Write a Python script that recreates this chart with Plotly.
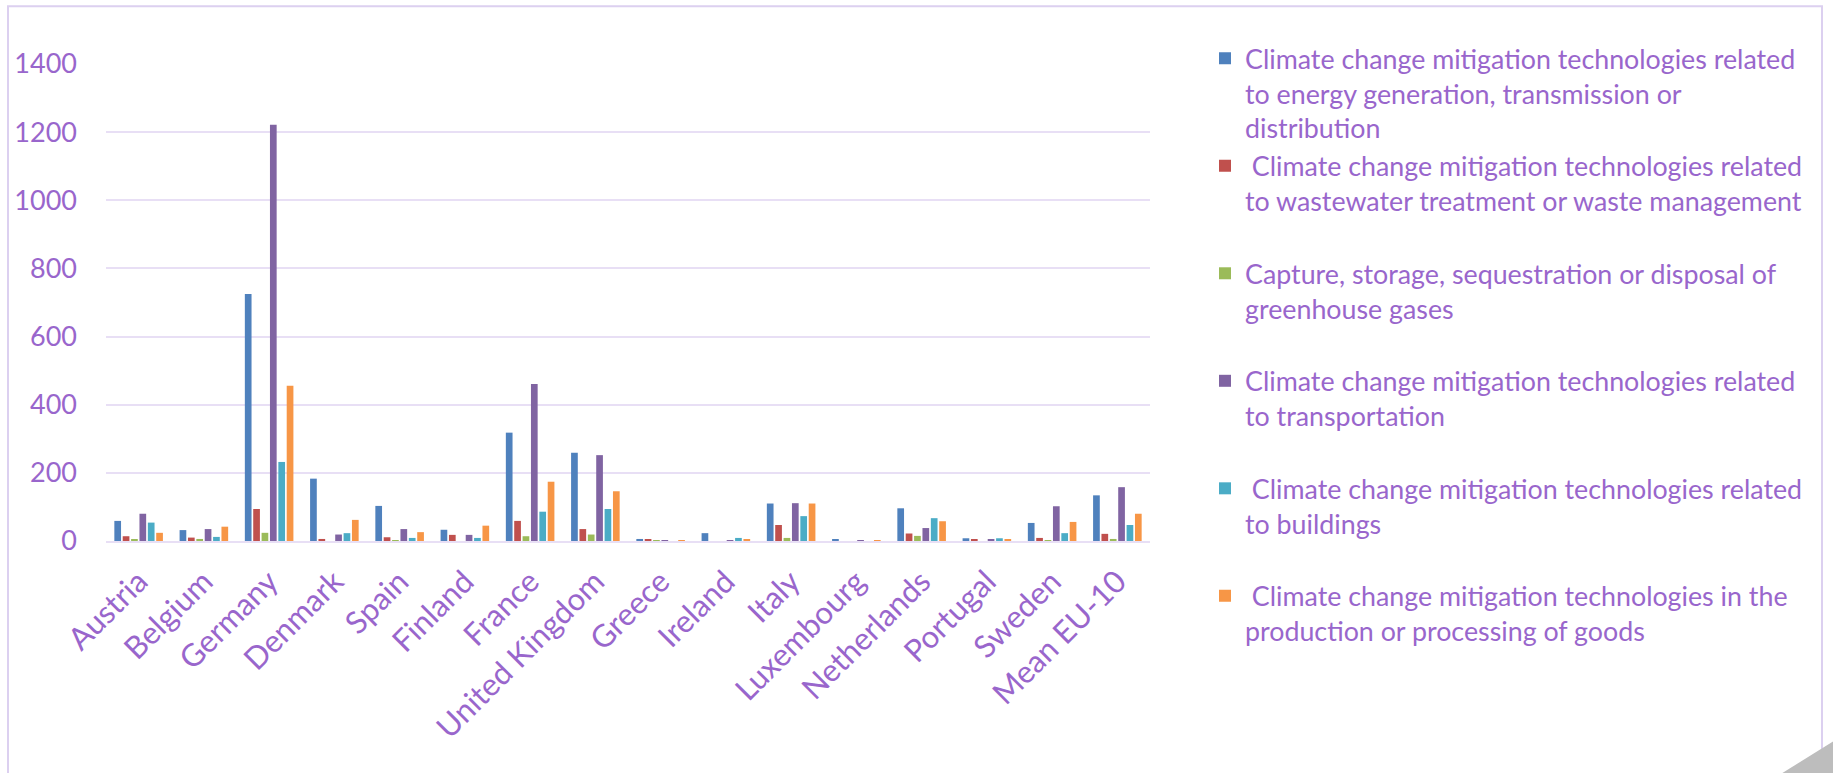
import plotly.graph_objects as go

countries = ["Austria", "Belgium", "Germany", "Denmark", "Spain", "Finland", "France",
             "United Kingdom", "Greece", "Ireland", "Italy", "Luxembourg", "Netherlands",
             "Portugal", "Sweden", "Mean EU-10"]

energy = [59, 32, 725, 183, 103, 33, 318, 259, 6, 23, 110, 3, 96, 8, 53, 134]
waste = [14, 10, 94, 6, 11, 18, 59, 35, 5, 0, 47, 0, 22, 3, 9, 21]
capture = [3, 6, 24, 0, 1, 0, 14, 19, 1, 0, 9, 0, 15, 0, 1, 6]
transport = [80, 35, 1222, 19, 35, 18, 461, 252, 1, 1, 111, 1, 38, 3, 102, 158]
buildings = [54, 12, 232, 23, 9, 9, 86, 94, 0, 9, 73, 0, 67, 8, 23, 47]
goods = [24, 42, 456, 62, 26, 45, 174, 146, 1, 5, 110, 1, 58, 5, 56, 80]

series_names = [
    "Climate change mitigation technologies related<br>to energy generation, transmission or<br>distribution",
    "\u00a0Climate change mitigation technologies related<br>to wastewater treatment or waste management<br>\u00a0",
    "Capture, storage, sequestration or disposal of<br>greenhouse gases<br>\u00a0",
    "Climate change mitigation technologies related<br>to transportation<br>\u00a0",
    "\u00a0Climate change mitigation technologies related<br>to buildings<br>\u00a0",
    "\u00a0Climate change mitigation technologies in the<br>production or processing of goods<br>\u00a0",
]
series_values = [energy, waste, capture, transport, buildings, goods]
colors = ["#4F81BD", "#C0504D", "#9BBB59", "#8064A2", "#4BACC6", "#F79646"]

y_ticks = [0, 200, 400, 600, 800, 1000, 1200, 1400]

TEXT = "#9966CC"
GRID = "#E8DFF5"
FONT = "Lato"

fig = go.Figure()
for name, vals, col in zip(series_names, series_values, colors):
    fig.add_trace(go.Bar(x=countries, y=vals, name=name, marker_color=col,
                         marker_line_width=0))

W, H = 1833, 773
L, R = 106, 1150
T, B = 63.7, 541

def px_x(p):
    return (p - L) / (R - L)

def px_y(p):
    return (B - p) / (B - T)

fig.update_layout(
    width=W, height=H,
    margin=dict(l=L, r=W - R, t=T, b=H - B, pad=0),
    paper_bgcolor="white", plot_bgcolor="white",
    barmode="group", bargap=0.23, bargroupgap=0.2,
    font=dict(family=FONT, color=TEXT),
    showlegend=True,
    legend=dict(x=px_x(1205), xanchor="left", y=px_y(34), yanchor="top",
                font=dict(family=FONT, size=26.8, color=TEXT),
                valign="top", bgcolor="rgba(0,0,0,0)", tracegroupgap=0,
                traceorder="normal", maxheight=760),
    xaxis=dict(tickangle=-45, tickfont=dict(family=FONT, size=31, color=TEXT),
               showgrid=False, showline=True, linecolor=GRID, linewidth=2,
               ticks="", ticklabelstandoff=8, fixedrange=True),
    yaxis=dict(range=[0, 1400], tickvals=y_ticks, ticktext=[str(v) for v in y_ticks],
               tickfont=dict(family=FONT, size=27, color=TEXT),
               showgrid=True, gridcolor=GRID, gridwidth=2, zeroline=False,
               showline=False, ticks="", ticklabelstandoff=28, fixedrange=True),
    shapes=[
        dict(type="path", xref="paper", yref="paper",
             path=f"M {px_x(8)} {px_y(790)} L {px_x(8)} {px_y(6)} L {px_x(1822)} {px_y(6)} L {px_x(1822)} {px_y(790)}",
             line=dict(color="#DCD0F0", width=2), layer="below"),
        dict(type="path", xref="paper", yref="paper",
             path=f"M {px_x(1781)} {px_y(774)} L {px_x(1834)} {px_y(741)} L {px_x(1834)} {px_y(774)} Z",
             fillcolor="#BDBDBD", line=dict(width=0), layer="above"),
    ],
)

fig.write_html("out.html")
